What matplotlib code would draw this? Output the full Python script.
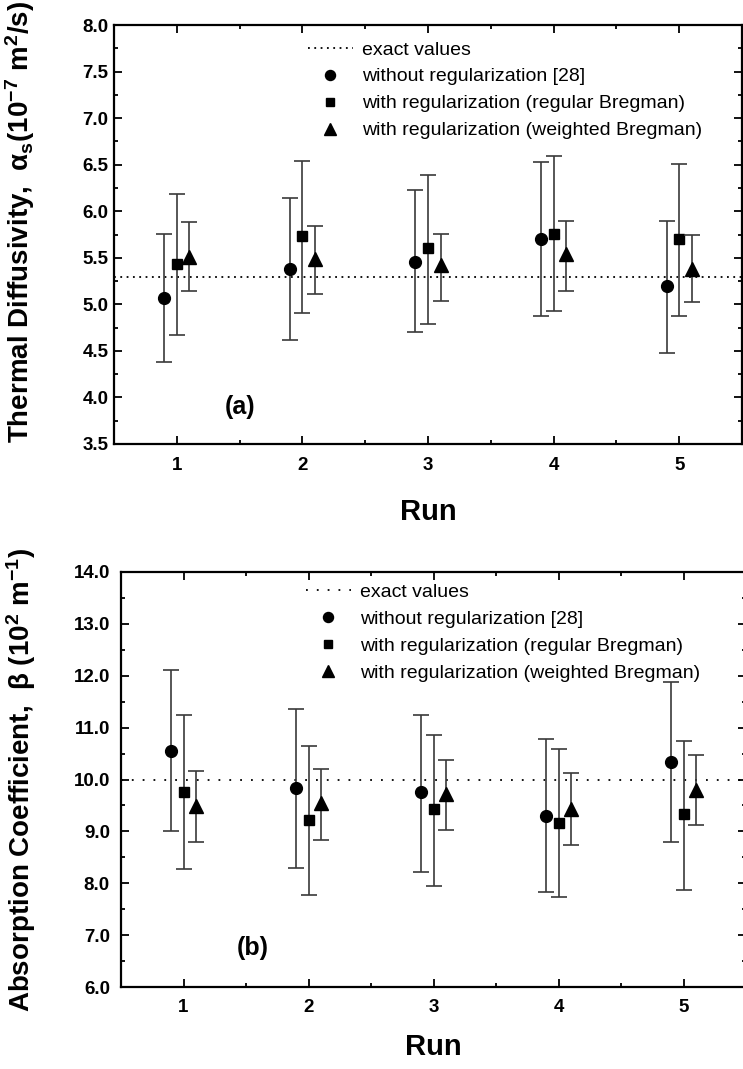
import matplotlib
matplotlib.use("Agg")
import matplotlib.pyplot as plt
from matplotlib.ticker import MultipleLocator, FormatStrFormatter
import numpy as np

plt.rcParams['font.family'] = ['Liberation Sans', 'DejaVu Sans']
plt.rcParams['mathtext.fontset'] = 'custom'
plt.rcParams['mathtext.rm'] = 'Liberation Sans:bold'
plt.rcParams['mathtext.it'] = 'Liberation Sans:bold'
plt.rcParams['mathtext.bf'] = 'Liberation Sans:bold'

runs = [1, 2, 3, 4, 5]
labels = ["exact values", "without regularization [28]",
          "with regularization (regular Bregman)",
          "with regularization (weighted Bregman)"]

# (a) thermal diffusivity
alpha_exact = 5.29
alpha_noreg = [5.07, 5.38, 5.46, 5.70, 5.20]
alpha_noreg_lo = [4.38, 4.62, 4.70, 4.87, 4.48]
alpha_noreg_hi = [5.76, 6.14, 6.23, 6.53, 5.90]
alpha_reg = [5.43, 5.73, 5.61, 5.76, 5.70]
alpha_reg_lo = [4.67, 4.91, 4.79, 4.93, 4.88]
alpha_reg_hi = [6.19, 6.54, 6.39, 6.59, 6.51]
alpha_wreg = [5.51, 5.49, 5.42, 5.54, 5.38]
alpha_wreg_lo = [5.14, 5.11, 5.04, 5.14, 5.02]
alpha_wreg_hi = [5.88, 5.84, 5.76, 5.89, 5.74]

# (b) absorption coefficient
beta_exact = 10.0
beta_noreg = [10.55, 9.84, 9.75, 9.30, 10.34]
beta_noreg_lo = [9.00, 8.30, 8.22, 7.83, 8.80]
beta_noreg_hi = [12.12, 11.35, 11.25, 10.78, 11.87]
beta_reg = [9.75, 9.22, 9.43, 9.17, 9.33]
beta_reg_lo = [8.28, 7.78, 7.95, 7.73, 7.87]
beta_reg_hi = [11.25, 10.64, 10.86, 10.59, 10.75]
beta_wreg = [9.49, 9.55, 9.73, 9.44, 9.80]
beta_wreg_lo = [8.79, 8.84, 9.02, 8.74, 9.12]
beta_wreg_hi = [10.16, 10.20, 10.38, 10.12, 10.47]

W, H = 743, 1069
fig = plt.figure(figsize=(W / 100, H / 100), dpi=100)
ax1 = fig.add_axes([114 / W, 1 - 444 / H, (742 - 114) / W, (444 - 25) / H])
ax2 = fig.add_axes([121 / W, 1 - 987 / H, (746 - 121) / W, (987 - 572) / H])

ecol = '#3a3a3a'


def panel(ax, exact, series, dotstyle, leg_anchor, ylpad, xlpad):
    x = np.array(runs, dtype=float)
    ax.axhline(exact, color='black', lw=1.3, ls=dotstyle, label=labels[0])
    offsets = [-0.1, 0.0, 0.1]
    markers = ['o', 's', '^']
    msizes = [8.5, 7.5, 9.5]
    for (v, lo, hi), off, m, ms, lab in zip(series, offsets, markers, msizes, labels[1:]):
        v = np.array(v); lo = np.array(lo); hi = np.array(hi)
        ax.errorbar(x + off, v, yerr=[v - lo, hi - v], fmt='none', ecolor=ecol,
                    elinewidth=1.2, capsize=6, capthick=1.2)
        ax.plot(x + off, v, ls='none', marker=m, ms=ms, color='black', label=lab)
    ax.set_xlim(0.5, 5.5)
    ax.xaxis.set_major_locator(MultipleLocator(1))
    ax.xaxis.set_minor_locator(MultipleLocator(0.5))
    ax.tick_params(which='both', direction='in', top=True, right=True, width=1.3,
                   labelsize=13.5)
    ax.tick_params(which='major', length=6)
    ax.tick_params(which='minor', length=3)
    ax.tick_params(axis='x', which='major', pad=9)
    ax.tick_params(axis='y', which='major', pad=ylpad)
    for s in ax.spines.values():
        s.set_linewidth(1.6)
    ax.set_xlabel('Run', fontsize=21, fontweight='bold', labelpad=xlpad)
    ax.legend(loc='upper left', bbox_to_anchor=leg_anchor, frameon=False,
              fontsize=14, handlelength=2.3, handletextpad=0.5,
              labelspacing=0.48, borderaxespad=0.0, borderpad=0.0,
              markerscale=0.85)


panel(ax1, alpha_exact,
      [(alpha_noreg, alpha_noreg_lo, alpha_noreg_hi),
       (alpha_reg, alpha_reg_lo, alpha_reg_hi),
       (alpha_wreg, alpha_wreg_lo, alpha_wreg_hi)], (0, (1, 2.5)),
      (0.309, 0.962), 4, 18)
ax1.set_ylim(3.5, 8.0)
ax1.yaxis.set_major_locator(MultipleLocator(0.5))
ax1.yaxis.set_minor_locator(MultipleLocator(0.25))
ax1.yaxis.set_major_formatter(FormatStrFormatter('%.1f'))
ax1.set_ylabel(r'Thermal Diffusivity,  $\alpha_s$(10$^{-7}$ m$^2$/s)',
               fontsize=20, fontweight='bold')
ax1.yaxis.set_label_coords(-0.123, 0.53)
ax1.text(1.507, 3.9, '(a)', fontsize=18, fontweight='bold', ha='center', va='center')

panel(ax2, beta_exact,
      [(beta_noreg, beta_noreg_lo, beta_noreg_hi),
       (beta_reg, beta_reg_lo, beta_reg_hi),
       (beta_wreg, beta_wreg_lo, beta_wreg_hi)], (0, (1, 5)),
      (0.296, 0.973), 8, 12)
ax2.set_ylim(6.0, 14.0)
ax2.yaxis.set_major_locator(MultipleLocator(1.0))
ax2.yaxis.set_minor_locator(MultipleLocator(0.5))
ax2.yaxis.set_major_formatter(FormatStrFormatter('%.1f'))
ax2.set_ylabel(r'Absorption Coefficient,  $\beta$ (10$^2$ m$^{-1}$)',
               fontsize=20, fontweight='bold')
ax2.yaxis.set_label_coords(-0.133, 0.5)
ax2.text(1.555, 6.75, '(b)', fontsize=18, fontweight='bold', ha='center', va='center')

for ax in (ax1, ax2):
    for lab in ax.get_xticklabels() + ax.get_yticklabels():
        lab.set_fontweight('bold')

fig.savefig('out.png', dpi=100)
